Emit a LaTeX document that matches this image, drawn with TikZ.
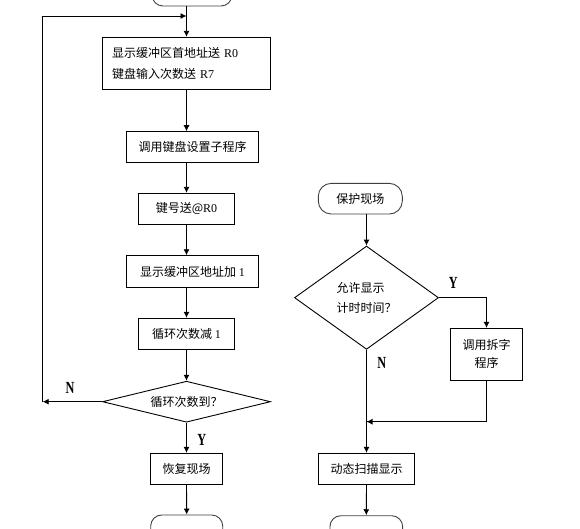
\documentclass[tikz,border=0pt]{standalone}
\usepackage{fontspec}
\setmainfont{Liberation Serif}
\newfontfamily\cjk{Noto Sans CJK SC}
\usetikzlibrary{shapes.geometric,arrows.meta}
\newcommand\lat[1]{{\rmfamily #1}}
\begin{document}
\begin{tikzpicture}[x=1pt,y=-1pt,
  every node/.style={font=\cjk\fontsize{12pt}{20.6pt}\selectfont},
  proc/.style={draw, rectangle, inner sep=0pt, line width=0.9pt},
  term/.style={draw=black!75, rectangle, rounded corners=11pt, line width=0.9pt, inner sep=0pt},
  dec/.style={draw, diamond, inner sep=0pt, line width=0.9pt},
  arr/.style={line width=0.9pt, -{Latex[length=6pt,width=6pt]}},
  ln/.style={line width=0.9pt},
  yn/.style={font=\rmfamily\bfseries\fontsize{17pt}{17pt}\selectfont, xscale=0.72}]
\useasboundingbox (0,0) rectangle (580,529);
\clip (0,0) rectangle (580,529);
% left column
\node[term, minimum width=80pt, minimum height=30pt] (t0) at (192,-9) {};
\node[proc, minimum width=168pt, minimum height=52pt, text width=149pt, inner xsep=9.5pt, align=left] (b1) at (186.5,63.3) {显示缓冲区首地址送 \lat{R0}\\键盘输入次数送 \lat{R7}};
\node[proc, minimum width=132.4pt, minimum height=30.6pt] (b2) at (192.5,147) {调用键盘设置子程序};
\node[proc, minimum width=96pt, minimum height=31pt] (b3) at (186.5,208.8) {键号送@\lat{R0}};
\node[proc, minimum width=132.4pt, minimum height=31.6pt] (b4) at (192.5,271.5) {显示缓冲区地址加 \lat{1}};
\node[proc, minimum width=96pt, minimum height=31pt] (b5) at (186.5,333.8) {循环次数减 \lat{1}};
\node[dec, minimum width=168pt, minimum height=41pt, shape aspect=4.1] (d1) at (186.5,401.7) {循环次数到？};
\node[proc, minimum width=72pt, minimum height=31pt] (b6) at (186.5,468.8) {恢复现场};
\node[term, minimum width=72pt, minimum height=30pt] (e1) at (186.7,530) {};
\coordinate (c1) at (42.7,401.7);
\coordinate (fb) at (186.5,16);
\draw[arr] (b1 |- t0.south) -- (b1.north);
\draw[arr] (b1.south) -- (b1.south |- b2.north);
\draw[arr] (b3 |- b2.south) -- (b3.north);
\draw[arr] (b3.south) -- (b3.south |- b4.north);
\draw[arr] (b5 |- b4.south) -- (b5.north);
\draw[arr] (b5.south) -- (d1.north);
\draw[arr] (d1.south) -- (b6.north);
\draw[arr] (b6.south) -- (e1.north);
\draw[arr] (d1.west) -- (c1);
\draw[arr] (c1) |- (fb);
\node[yn] (n1) at (70,388) {N};
\node[yn] (y1) at (201.7,440) {Y};
% right column
\node[term, minimum width=84pt, minimum height=30.7pt, rounded corners=13pt] (t1) at (360.3,198.7) {保护现场};
\node[dec, minimum width=144pt, minimum height=103.3pt, shape aspect=1.4, align=left, font=\cjk\fontsize{12pt}{20pt}\selectfont] (d2) at (366.5,297.7) {允许显示\\计时时间？};
\node[proc, minimum width=72pt, minimum height=51.7pt, align=center, font=\cjk\fontsize{12pt}{17.7pt}\selectfont] (b7) at (486.5,354.2) {调用拆字\\程序};
\node[proc, minimum width=96pt, minimum height=31pt] (b8) at (366.5,468.8) {动态扫描显示};
\node[term, minimum width=72.7pt, minimum height=30pt] (e2) at (366.3,530.7) {};
\coordinate (m) at (366.5,421.7);
\draw[arr] (d2 |- t1.south) -- (d2.north);
\draw[arr] (d2.east) -| (b7.north);
\draw[arr] (d2.south) -- (b8.north);
\draw[ln] (b7.south) |- (m);
\draw[arr] (b7.south |- m) -- (m);
\draw[arr] (b8.south) -- (e2.north);
\node[yn] (y2) at (453.3,283.3) {Y};
\node[yn] (n2) at (381.7,363.3) {N};
\end{tikzpicture}
\end{document}
